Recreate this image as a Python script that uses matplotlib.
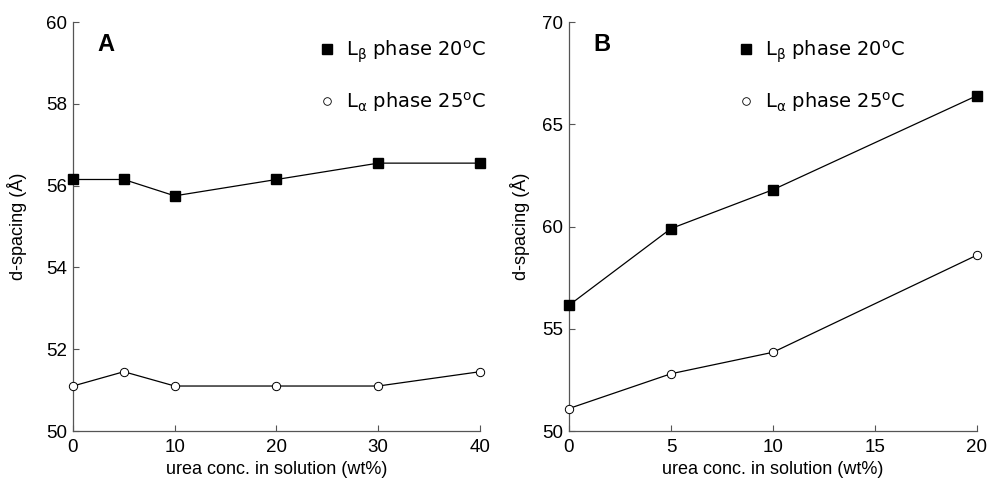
import matplotlib as mpl
mpl.use('Agg')
import matplotlib.pyplot as plt
from matplotlib.lines import Line2D

plt.rcParams['font.family'] = ['Liberation Sans', 'DejaVu Sans']
plt.rcParams['mathtext.fontset'] = 'custom'
plt.rcParams['mathtext.rm'] = 'DejaVu Sans'

# DATI pannello A
ureaA = [0, 5, 10, 20, 30, 40]
betaA = [56.15, 56.15, 55.75, 56.15, 56.55, 56.55]
alfaA = [51.1, 51.45, 51.1, 51.1, 51.1, 51.45]

# DATI pannello B
ureaB = [0, 5, 10, 20]
betaB = [56.15, 59.9, 61.8, 66.4]
alfaB = [51.1, 52.8, 53.85, 58.6]

labelBeta = r'L$_\mathregular{\beta}$ phase 20$^\mathregular{o}$C'
labelAlfa = r'L$_\mathregular{\alpha}$ phase 25$^\mathregular{o}$C'

fig = plt.figure(figsize=(9.89, 4.78), dpi=100)
ax1 = fig.add_axes([0.0738, 0.0983, 0.4115, 0.8556])
ax2 = fig.add_axes([0.5753, 0.0983, 0.4125, 0.8556])

pannelli = [
    (ax1, ureaA, betaA, alfaA, 'A', (0, 40), [0, 10, 20, 30, 40], (50, 60), [50, 52, 54, 56, 58, 60], 0.605, 14),
    (ax2, ureaB, betaB, alfaB, 'B', (0, 20), [0, 5, 10, 15, 20], (50, 70), [50, 55, 60, 65, 70], 0.415, 9),
]

for ax, x, yb, ya, lettera, xlim, xt, ylim, yt, legx, ypad in pannelli:
    ax.plot(x, yb, '-', color='black', lw=0.9, marker='s', ms=6.8, mfc='black', mec='black', clip_on=False, zorder=3)
    ax.plot(x, ya, '-', color='black', lw=0.9, marker='o', ms=6, mfc='white', mec='black', mew=0.7, clip_on=False, zorder=3)
    ax.set_xlim(*xlim)
    ax.set_ylim(*ylim)
    ax.set_xticks(xt)
    ax.set_yticks(yt)
    ax.spines['top'].set_visible(False)
    ax.spines['right'].set_visible(False)
    for s in ['left', 'bottom']:
        ax.spines[s].set_color('#555555')
        ax.spines[s].set_linewidth(0.9)
    ax.tick_params(direction='in', length=4, width=0.8, color='#555555', labelsize=13.5)
    ax.tick_params(axis='x', pad=6)
    ax.tick_params(axis='y', pad=4)
    ax.set_xlabel('urea conc. in solution (wt%)', fontsize=13, labelpad=3)
    ax.set_ylabel('d-spacing (Å)', fontsize=13, labelpad=ypad)
    ax.text(0.06, 0.945, lettera, transform=ax.transAxes, fontsize=17, fontweight='bold', va='center')

    maniglie = [
        Line2D([], [], ls='none', marker='s', ms=6.5, mfc='black', mec='black'),
        Line2D([], [], ls='none', marker='o', ms=5.5, mfc='white', mec='black', mew=0.6),
    ]
    leg = ax.legend(maniglie, [labelBeta, labelAlfa], loc='upper left', bbox_to_anchor=(legx, 0.96),
                    frameon=False, fontsize=14, handlelength=0.8, handletextpad=0.6,
                    labelspacing=1.3, borderpad=0, borderaxespad=0)
    for t in leg.get_texts():
        t.set_family('DejaVu Sans')

fig.savefig('out.png', dpi=100)
